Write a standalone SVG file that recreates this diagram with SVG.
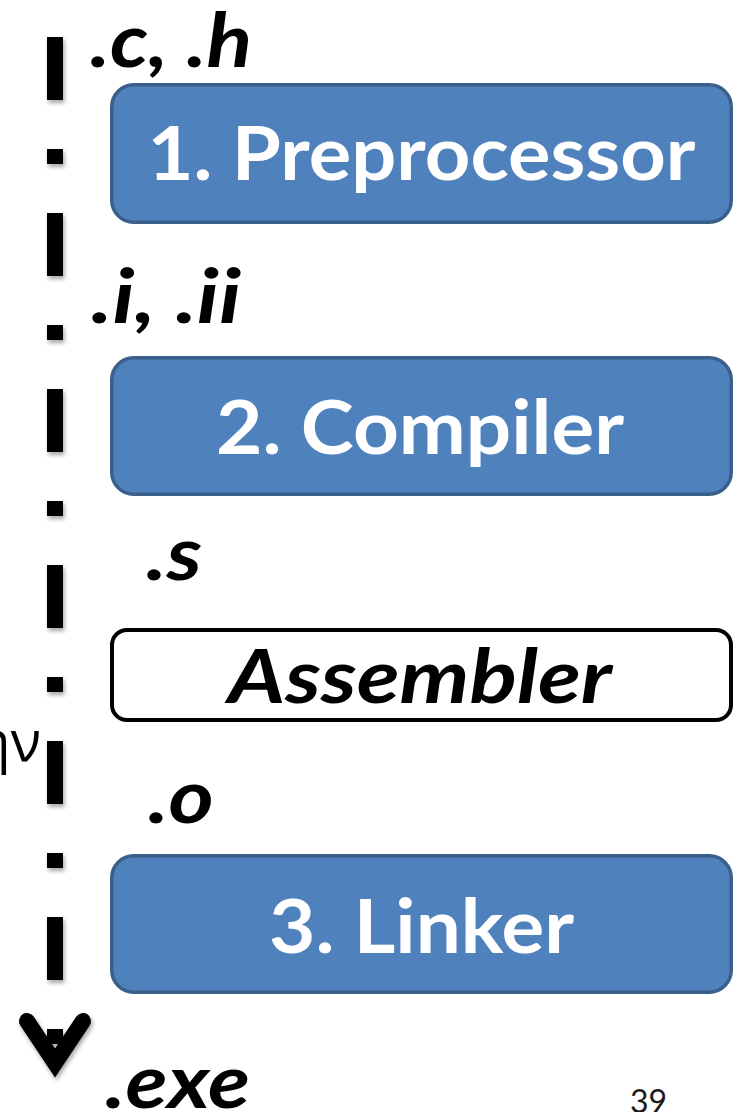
<svg xmlns="http://www.w3.org/2000/svg" width="739" height="1112" viewBox="0 0 739 1112">
  <style>
    .stage rect { fill: #4f81bd; stroke: #3a5f8b; stroke-width: 3.5; }
    .stage text { font-family: Lato, "Liberation Sans", sans-serif; font-weight: bold; font-size: 74px; fill: #ffffff; text-anchor: middle; }
    .plain rect { fill: #ffffff; stroke: #000000; stroke-width: 4; }
    .plain text { font-family: Lato, "Liberation Sans", sans-serif; font-weight: bold; font-style: italic; font-size: 74px; fill: #000000; text-anchor: middle; }
    .ext { font-family: Lato, "Liberation Sans", sans-serif; font-weight: bold; font-style: italic; font-size: 74px; fill: #000000; }
    .flow { fill: none; stroke: #000000; stroke-width: 16; stroke-dasharray: 63 49 15 49; }
  </style>
  <defs>
    <filter id="soft" filterUnits="userSpaceOnUse" x="0" y="0" width="739" height="1112">
      <feDropShadow dx="1.5" dy="3" stdDeviation="2" flood-color="#000000" flood-opacity="0.35"/>
    </filter>
    <marker id="openHead" markerUnits="userSpaceOnUse" viewBox="-60 -45 80 90" width="80" height="90" markerWidth="80" markerHeight="90" refX="0" refY="0" orient="auto">
      <path d="M-42,28 L0,0 L-42,-28" fill="none" stroke="#000000" stroke-width="16" stroke-linecap="round" stroke-linejoin="miter" stroke-miterlimit="10"/>
    </marker>
  </defs>

  <rect width="739" height="1112" fill="#ffffff"/>

  <!-- build pipeline arrow -->
  <g id="connectors" filter="url(#soft)">
    <line class="flow" x1="55" y1="37" x2="55" y2="1063" marker-end="url(#openHead)"/>
  </g>

  <!-- file extensions between stages -->
  <g id="labels">
    <text class="ext" x="90" y="67" textLength="162" lengthAdjust="spacingAndGlyphs">.c, .h</text>
    <text class="ext" x="91" y="323" textLength="150" lengthAdjust="spacingAndGlyphs">.i, .ii</text>
    <text class="ext" x="146" y="580" textLength="56" lengthAdjust="spacingAndGlyphs">.s</text>
    <text class="ext" x="148" y="823" textLength="66" lengthAdjust="spacingAndGlyphs">.o</text>
    <text class="ext" x="105" y="1108" textLength="145" lengthAdjust="spacingAndGlyphs">.exe</text>
  </g>

  <g id="preprocessor" class="stage">
    <rect x="111.75" y="84.75" width="619.5" height="137.5" rx="22"/>
    <text x="421.5" y="180" textLength="548" lengthAdjust="spacingAndGlyphs">1. Preprocessor</text>
  </g>

  <g id="compiler" class="stage">
    <rect x="111.75" y="357.75" width="619.5" height="136.5" rx="22"/>
    <text x="420" y="454" textLength="408" lengthAdjust="spacingAndGlyphs">2. Compiler</text>
  </g>

  <g id="assembler" class="plain">
    <rect x="112" y="630" width="619" height="90" rx="15"/>
    <text x="420" y="703" textLength="384" lengthAdjust="spacingAndGlyphs">Assembler</text>
  </g>

  <g id="linker" class="stage">
    <rect x="111.75" y="855.75" width="619.5" height="136.5" rx="22"/>
    <text x="421.5" y="953" textLength="305" lengthAdjust="spacingAndGlyphs">3. Linker</text>
  </g>

  <!-- side fragment and page number -->
  <text x="41" y="761" font-family="'Open Sans', 'Noto Sans', sans-serif" font-size="56" fill="#000000" text-anchor="end">ην</text>
  <text x="630" y="1113" font-family="Lato, 'Liberation Sans', sans-serif" font-size="32" fill="#1a1a1a">39</text>
</svg>
